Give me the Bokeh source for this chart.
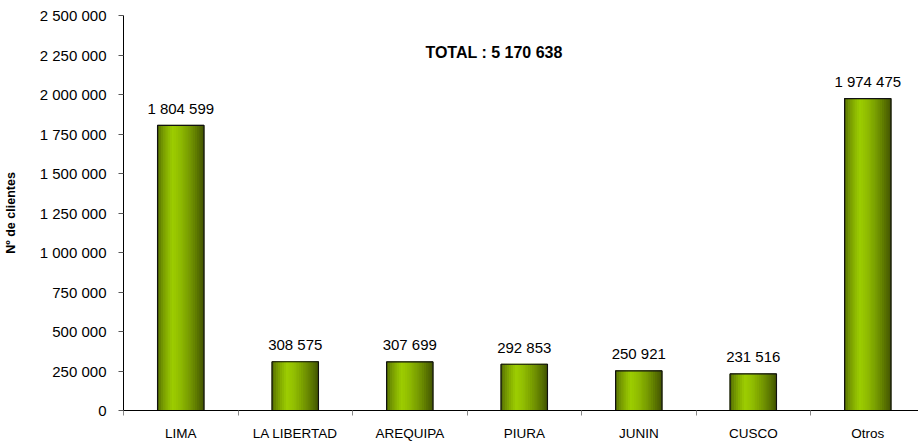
import numpy as np
from bokeh.plotting import figure
from bokeh.models import Range1d, FixedTicker, ColumnDataSource, Label
from bokeh.embed import file_html
from bokeh.resources import INLINE
from bokeh.core.properties import value

# ---------------- data ----------------
categories = ["LIMA", "LA LIBERTAD", "AREQUIPA", "PIURA", "JUNIN", "CUSCO", "Otros"]
clientes = [1804599, 308575, 307699, 292853, 250921, 231516, 1974475]
total_text = "TOTAL : 5 170 638"
y_title = "Nº de clientes"
y_ticks = [0, 250000, 500000, 750000, 1000000, 1250000, 1500000,
           1750000, 2000000, 2250000, 2500000]


def fmt(v):
    return f"{v:,}".replace(",", " ")


FONT = "Liberation Sans"

centers = np.arange(len(categories)) + 0.5

p = figure(frame_width=795, frame_height=395, output_backend="svg",
           toolbar_location=None,
           x_range=Range1d(0, 6.943), y_range=Range1d(0, 2500000),
           min_border_left=123, min_border_right=0, min_border_top=15,
           min_border_bottom=35)
p.outline_line_color = None
p.grid.visible = False
p.background_fill_color = "white"
p.border_fill_color = "white"

# ---- gradient bars (strips) ----
bar_w = 0.405
n_strips = 22
dark = np.array([0x34, 0x42, 0x00], float)
bright = np.array([0x9c, 0xcc, 0x00], float)
for k in range(n_strips):
    t = (k + 0.5) / n_strips
    if t < 0.33:
        f = 0.15 + 0.85 * (t / 0.33) ** 0.6
    else:
        f = 1.0 - 0.85 * ((t - 0.33) / 0.67) ** 1.4
    c = dark + (bright - dark) * f
    col = "#%02x%02x%02x" % tuple(int(round(v)) for v in c)
    off = -bar_w / 2 + (k + 0.5) * bar_w / n_strips
    p.vbar(x=centers + off, top=clientes, bottom=0, width=bar_w / n_strips,
           fill_color=col, line_color=col, line_width=1)

p.vbar(x=centers, top=clientes, bottom=0, width=bar_w, fill_color=None,
       line_color="#111111", line_width=1.2)

# value labels
src = ColumnDataSource(dict(x=centers, y=clientes, t=[fmt(v) for v in clientes]))
p.text(x="x", y="y", text="t", source=src, text_align="center",
       text_baseline="alphabetic", y_offset=-17,
       text_font=value(FONT), text_font_size="15px", text_color="black")

# total label
p.add_layout(Label(x=3.236, y=2265000, text=total_text, text_align="center",
                   text_baseline="middle", text_font=FONT, text_font_size="16px",
                   text_font_style="bold", text_color="black"))

# ---- y axis ----
ya = p.yaxis[0]
ya.ticker = FixedTicker(ticks=y_ticks)
ya.major_label_overrides = {v: fmt(v) for v in y_ticks}
ya.major_label_text_font = FONT
ya.major_label_text_font_size = "15px"
ya.major_label_text_color = "black"
ya.major_label_standoff = 12
ya.major_tick_out = 5
ya.major_tick_in = 0
ya.major_tick_line_color = "#555555"
ya.minor_tick_line_color = None
ya.axis_line_color = "black"
ya.axis_label = y_title
ya.axis_label_text_font = FONT
ya.axis_label_text_font_size = "12.5px"
ya.axis_label_text_font_style = "bold"
ya.axis_label_text_color = "black"
ya.axis_label_standoff = 19

# ---- x axis ----
xa = p.xaxis[0]
xa.ticker = FixedTicker(ticks=list(centers), minor_ticks=list(range(len(categories) + 1)))
xa.major_label_overrides = {float(c): n for c, n in zip(centers, categories)}
xa.major_label_text_font = FONT
xa.major_label_text_font_size = "13.5px"
xa.major_label_text_color = "black"
xa.major_tick_line_color = None
xa.major_tick_out = 0
xa.major_tick_in = 0
xa.major_label_standoff = 10
xa.minor_tick_line_color = "#888888"
xa.minor_tick_out = 5
xa.minor_tick_in = 0
xa.axis_line_color = "black"

open("out.html", "w").write(file_html(p, INLINE))
